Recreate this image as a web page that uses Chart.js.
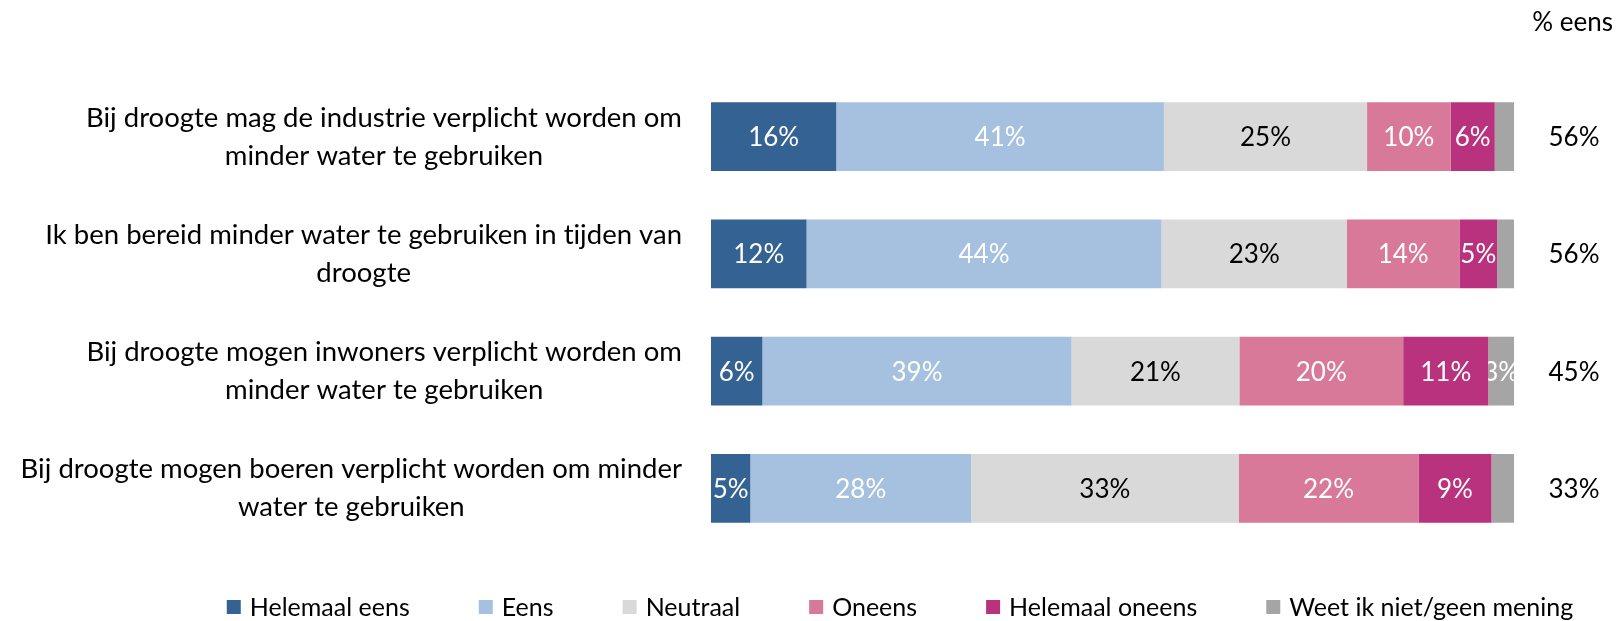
<!DOCTYPE html>
<html><head><meta charset="utf-8">
<script src="https://cdn.jsdelivr.net/npm/chart.js@4"></script>
<style>html,body{margin:0;padding:0;background:#fff}#wrap{width:1617px;height:621px}</style>
</head><body><div id="wrap"><canvas id="c" width="1617" height="621"></canvas></div>
<script>
const categories = [
  ['Bij droogte mag de industrie verplicht worden om', 'minder water te gebruiken'],
  ['Ik ben bereid minder water te gebruiken in tijden van', 'droogte'],
  ['Bij droogte mogen inwoners verplicht worden om', 'minder water te gebruiken'],
  ['Bij droogte mogen boeren verplicht worden om minder', 'water te gebruiken']
];
const seriesNames = ['Helemaal eens', 'Eens', 'Neutraal', 'Oneens', 'Helemaal oneens', 'Weet ik niet/geen mening'];
const helemaalEens   = [15.6, 11.9, 6.4, 4.9];
const eens           = [40.8, 44.2, 38.5, 27.5];
const neutraal       = [25.3, 23.1, 20.9, 33.3];
const oneens         = [10.4, 14.0, 20.4, 22.4];
const helemaalOneens = [5.5, 4.7, 10.6, 9.1];
const weetNiet       = [2.4, 2.1, 3.2, 2.8];
const percentEens    = [56, 56, 45, 33];
const totalHeader    = '% eens';

const colors = ['#346293', '#A5C1DF', '#D9D9D9', '#D9799A', '#B9327D', '#A5A5A5'];
const labelColors = ['#ffffff', '#ffffff', '#000000', '#ffffff', '#ffffff', '#ffffff'];
const FONT = 'Lato, "Open Sans", sans-serif';
const seriesValues = [helemaalEens, eens, neutraal, oneens, helemaalOneens, weetNiet];

const barLabels = {
  id: 'barLabels',
  afterDatasetsDraw(chart) {
    const ctx = chart.ctx;
    chart.data.datasets.forEach((ds, di) => {
      const meta = chart.getDatasetMeta(di);
      meta.data.forEach((bar, i) => {
        const v = ds.data[i];
        if (v < 3) return;
        const p = bar.getProps(['x', 'base', 'y', 'height'], true);
        const left = Math.min(p.x, p.base), right = Math.max(p.x, p.base);
        ctx.save();
        ctx.beginPath();
        ctx.rect(left, p.y - p.height / 2, right - left, p.height);
        ctx.clip();
        ctx.fillStyle = labelColors[di];
        ctx.font = '26px ' + FONT;
        ctx.textAlign = 'center';
        ctx.textBaseline = 'middle';
        ctx.fillText(Math.round(v) + '%', (left + right) / 2, p.y + 1);
        ctx.restore();
      });
    });
  }
};

const sideText = {
  id: 'sideText',
  afterDraw(chart) {
    const ctx = chart.ctx;
    const yScale = chart.scales.y;
    ctx.save();
    if ('letterSpacing' in ctx) ctx.letterSpacing = '0.01px';
    ctx.textBaseline = 'middle';
    ctx.fillStyle = '#000';
    // category labels: block right-aligned, each line centered within block
    ctx.font = '27.5px ' + FONT;
    const blockRight = 682, lineH = 38;
    chart.data.labels.forEach((lines, i) => {
      const yc = yScale.getPixelForValue(i);
      const maxW = Math.max(...lines.map(l => ctx.measureText(l).width));
      const cx = blockRight - maxW / 2;
      ctx.textAlign = 'center';
      lines.forEach((l, k) => {
        const y = yc + (k - (lines.length - 1) / 2) * lineH;
        ctx.fillText(l, cx, y);
      });
    });
    // % eens column
    ctx.font = '26px ' + FONT;
    ctx.textAlign = 'center';
    chart.data.labels.forEach((lines, i) => {
      const yc = yScale.getPixelForValue(i);
      ctx.fillText(percentEens[i] + '%', 1574, yc + 1);
    });
    ctx.textAlign = 'right';
    ctx.fillText(totalHeader, 1613, 23);
    // legend
    ctx.font = '25px ' + FONT;
    const box = 14, gapBox = 9, gapItem = 69;
    const widths = seriesNames.map(n => box + gapBox + ctx.measureText(n).width);
    const total = widths.reduce((a, b) => a + b, 0) + gapItem * (seriesNames.length - 1);
    let x = 900 - total / 2;
    const ly = 607;
    ctx.textAlign = 'left';
    seriesNames.forEach((n, i) => {
      ctx.fillStyle = colors[i];
      ctx.fillRect(x, ly - box / 2, box, box);
      ctx.fillStyle = '#000';
      ctx.fillText(n, x + box + gapBox, ly + 1);
      x += widths[i] + gapItem;
    });
    ctx.restore();
  }
};

new Chart(document.getElementById('c'), {
  type: 'bar',
  data: {
    labels: categories,
    datasets: seriesNames.map((name, i) => ({
      label: name,
      data: seriesValues[i],
      backgroundColor: colors[i],
      borderWidth: 0,
      barPercentage: 0.585,
      categoryPercentage: 1
    }))
  },
  options: {
    indexAxis: 'y',
    responsive: false,
    animation: false,
    layout: { padding: { left: 711, right: 103, top: 78, bottom: 74 } },
    scales: {
      x: { stacked: true, min: 0, max: 100, display: false },
      y: { stacked: true, display: false }
    },
    plugins: { legend: { display: false }, tooltip: { enabled: false } }
  },
  plugins: [barLabels, sideText]
});
</script></body></html>
